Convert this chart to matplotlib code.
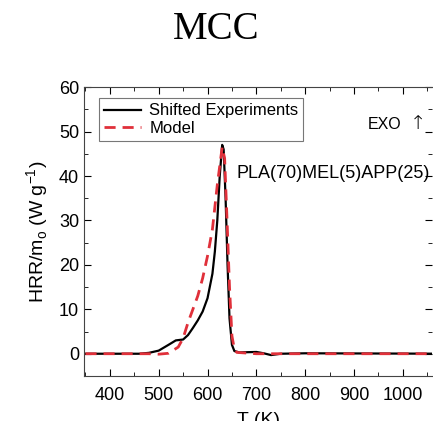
import numpy as np
import matplotlib.pyplot as plt
from matplotlib.ticker import MultipleLocator

# Shifted experiment (T in K, HRR/m0 in W/g)
exp_T = [350, 460, 480, 500, 520, 535, 550, 560, 570, 580, 590, 600, 610, 615,
         620, 625, 630, 633, 637, 641, 645, 650, 655, 665, 700, 715, 730, 750, 800, 1100]
exp_hrr = [0, 0, 0.2, 0.7, 2.0, 3.0, 3.2, 4.2, 5.8, 7.5, 9.5, 12.5, 18, 23,
           30, 40, 47, 46, 35, 20, 8, 2, 0.6, 0.3, 0.4, 0.1, -0.3, 0, 0.1, 0]

# Model
mod_T = [350, 460, 480, 500, 520, 540, 550, 560, 570, 580, 590, 600, 610, 620,
         630, 635, 640, 645, 650, 655, 660, 700, 1100]
mod_hrr = [0, 0, 0, -0.1, 0.1, 1.5, 3.5, 7, 10, 13, 17, 22, 28, 38,
           46.5, 44, 30, 15, 4, 1, 0.3, 0, 0]

plt.rcParams['font.family'] = ['Liberation Sans', 'DejaVu Sans']

fig = plt.figure(figsize=(4.33, 4.21), dpi=100)
ax = fig.add_axes([0.194, 0.107, 0.804, 0.686])

ax.plot(exp_T, exp_hrr, color='black', lw=1.6, label='Shifted Experiments')
ax.plot(mod_T, mod_hrr, color='#e0303a', lw=2, ls=(0, (4, 2.5)), label='Model')

ax.set_xlim(347, 1060)
ax.set_ylim(-5, 60)
ax.xaxis.set_major_locator(MultipleLocator(100))
ax.xaxis.set_minor_locator(MultipleLocator(50))
ax.yaxis.set_major_locator(MultipleLocator(10))
ax.yaxis.set_minor_locator(MultipleLocator(5))
ax.tick_params(which='both', direction='in', top=True, right=True, labelsize=13)
ax.tick_params(axis='x', pad=8)
ax.tick_params(which='major', length=5)
ax.tick_params(which='minor', length=3)
for s in ax.spines.values():
    s.set_color('#444444')
ax.spines['right'].set_visible(False)

ax.set_ylabel(r'HRR/m$_\mathregular{o}$ (W g$^\mathregular{-1}$)', fontsize=14, labelpad=6)
# the reference image crops this label at the bottom edge
ax.set_xlabel('T (K)', fontsize=14, labelpad=6)

leg = ax.legend(loc='upper left', bbox_to_anchor=(0.02, 0.99), fontsize=12,
                frameon=True, fancybox=False, edgecolor='#555555',
                handlelength=2.2, handletextpad=0.5, borderpad=0.3,
                labelspacing=0.15)
leg.get_frame().set_linewidth(0.8)

ax.text(0.815, 0.87, 'EXO', transform=ax.transAxes, fontsize=11.5, va='center')
ax.text(0.935, 0.875, '↑', transform=ax.transAxes, fontsize=14, va='center',
        family='DejaVu Sans', fontweight='light')
ax.text(0.437, 0.70, 'PLA(70)MEL(5)APP(25)', transform=ax.transAxes,
        fontsize=13, va='center')

fig.text(0.5, 0.93, 'MCC', ha='center', va='center', fontsize=28,
         family='Liberation Serif')

fig.savefig('out.png', dpi=100)
